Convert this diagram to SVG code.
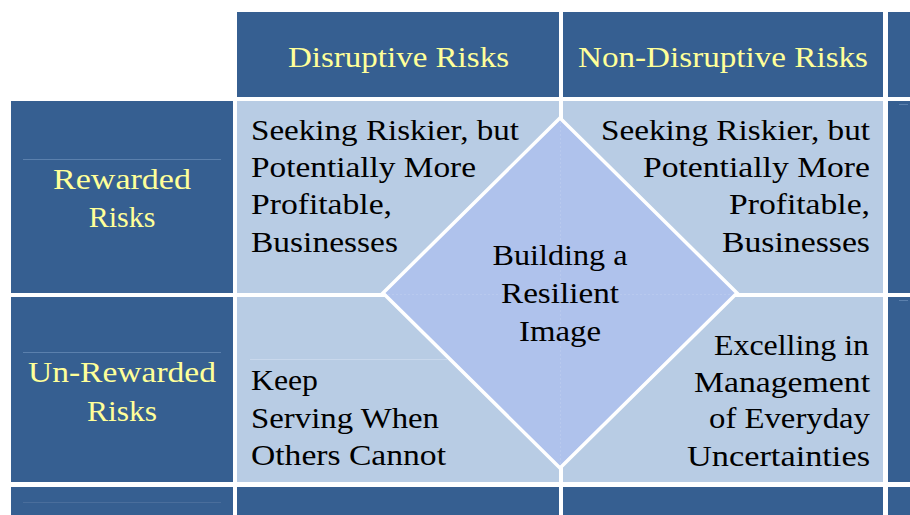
<svg xmlns="http://www.w3.org/2000/svg" width="910" height="515" viewBox="0 0 910 515">
<style>
.dark{fill:#365F91}
.light{fill:#B8CCE4}
.hd{font-family:"Liberation Serif","DejaVu Serif",serif;font-size:30px;fill:#FFFF99}
.tx{font-family:"Liberation Serif","DejaVu Serif",serif;font-size:30px;fill:#000000}
.rule{stroke:#5B80AD;stroke-width:1}
.rule2{stroke:#4A6E9C;stroke-width:1}
.rulel{stroke:#C9D8EC;stroke-width:1}
</style>
<rect width="910" height="515" fill="#FFFFFF"/>

<g id="header-disruptive">
<rect class="dark" x="237" y="12" width="322" height="85"/>
<text class="hd" x="288" y="67" textLength="221" lengthAdjust="spacingAndGlyphs">Disruptive Risks</text>
</g>
<g id="header-non-disruptive">
<rect class="dark" x="563" y="12" width="320" height="85"/>
<text class="hd" x="578" y="67" textLength="290" lengthAdjust="spacingAndGlyphs">Non-Disruptive Risks</text>
</g>
<g id="header-extra">
<rect class="dark" x="888" y="12" width="22" height="85"/>
</g>

<g id="row-rewarded">
<rect class="dark" x="11" y="101" width="222" height="192"/>
<line class="rule" x1="23" y1="159.5" x2="221" y2="159.5"/>
<text class="hd" x="53" y="189" textLength="138" lengthAdjust="spacingAndGlyphs">Rewarded</text>
<text class="hd" x="122" y="227" text-anchor="middle">Risks</text>
</g>
<g id="row-unrewarded">
<rect class="dark" x="11" y="297" width="222" height="185"/>
<line class="rule" x1="23" y1="352.5" x2="221" y2="352.5"/>
<text class="hd" x="28" y="382" textLength="188" lengthAdjust="spacingAndGlyphs">Un-Rewarded</text>
<text class="hd" x="87" y="421" textLength="70" lengthAdjust="spacingAndGlyphs">Risks</text>
</g>
<g id="row-bottom">
<rect class="dark" x="11" y="487" width="222" height="28"/>
<line class="rule2" x1="23" y1="502.5" x2="221" y2="502.5"/>
<rect class="dark" x="237" y="487" width="322" height="28"/>
<rect class="dark" x="563" y="487" width="320" height="28"/>
<rect class="dark" x="888" y="487" width="22" height="28"/>
</g>

<g id="right-column">
<rect class="dark" x="888" y="101" width="22" height="192"/>
<rect class="dark" x="888" y="297" width="22" height="185"/>
<line class="rule" x1="899" y1="104.5" x2="908" y2="104.5"/>
<line class="rule" x1="899" y1="300.5" x2="908" y2="300.5"/>
</g>

<g id="cell-disruptive-rewarded">
<rect class="light" x="237" y="101" width="322" height="192"/>
</g>
<g id="cell-nondisruptive-rewarded">
<rect class="light" x="563" y="101" width="320" height="192"/>
</g>
<g id="cell-disruptive-unrewarded">
<rect class="light" x="237" y="297" width="322" height="185"/>
<line class="rulel" x1="250" y1="359.5" x2="447" y2="359.5"/>
</g>
<g id="cell-nondisruptive-unrewarded">
<rect class="light" x="563" y="297" width="320" height="185"/>
</g>

<g id="diamond">
<polygon points="560,118 737,293 560,468 383,293" fill="#AFC2EC" stroke="#FFFFFF" stroke-width="3.5"/>
<line x1="560.5" y1="122" x2="560.5" y2="464" stroke="#B8C9EE" stroke-width="1" stroke-dasharray="2 2"/>
<line x1="388" y1="294.5" x2="732" y2="294.5" stroke="#B8C9EE" stroke-width="1" stroke-dasharray="2 2"/>
<text class="tx" x="560" y="265" text-anchor="middle" textLength="135" lengthAdjust="spacingAndGlyphs">Building a</text>
<text class="tx" x="560" y="303" text-anchor="middle" textLength="118" lengthAdjust="spacingAndGlyphs">Resilient</text>
<text class="tx" x="560" y="341" text-anchor="middle" textLength="82" lengthAdjust="spacingAndGlyphs">Image</text>
</g>

<g id="text-disruptive-rewarded">
<text class="tx" x="251" y="140" textLength="268" lengthAdjust="spacingAndGlyphs">Seeking Riskier, but</text>
<text class="tx" x="251" y="177" textLength="225" lengthAdjust="spacingAndGlyphs">Potentially More</text>
<text class="tx" x="251" y="214" textLength="141" lengthAdjust="spacingAndGlyphs">Profitable,</text>
<text class="tx" x="251" y="252" textLength="147" lengthAdjust="spacingAndGlyphs">Businesses</text>
</g>
<g id="text-nondisruptive-rewarded">
<text class="tx" x="601" y="140" textLength="269" lengthAdjust="spacingAndGlyphs">Seeking Riskier, but</text>
<text class="tx" x="643" y="177" textLength="227" lengthAdjust="spacingAndGlyphs">Potentially More</text>
<text class="tx" x="729" y="214" textLength="141" lengthAdjust="spacingAndGlyphs">Profitable,</text>
<text class="tx" x="722" y="252" textLength="148" lengthAdjust="spacingAndGlyphs">Businesses</text>
</g>
<g id="text-disruptive-unrewarded">
<text class="tx" x="251" y="390" textLength="67" lengthAdjust="spacingAndGlyphs">Keep</text>
<text class="tx" x="251" y="428" textLength="188" lengthAdjust="spacingAndGlyphs">Serving When</text>
<text class="tx" x="251" y="465" textLength="195" lengthAdjust="spacingAndGlyphs">Others Cannot</text>
</g>
<g id="text-nondisruptive-unrewarded">
<text class="tx" x="714" y="355" textLength="155" lengthAdjust="spacingAndGlyphs">Excelling in</text>
<text class="tx" x="694" y="392" textLength="176" lengthAdjust="spacingAndGlyphs">Management</text>
<text class="tx" x="709" y="428" textLength="161" lengthAdjust="spacingAndGlyphs">of Everyday</text>
<text class="tx" x="687" y="466" textLength="183" lengthAdjust="spacingAndGlyphs">Uncertainties</text>
</g>

<g id="connectors"></g>
</svg>
